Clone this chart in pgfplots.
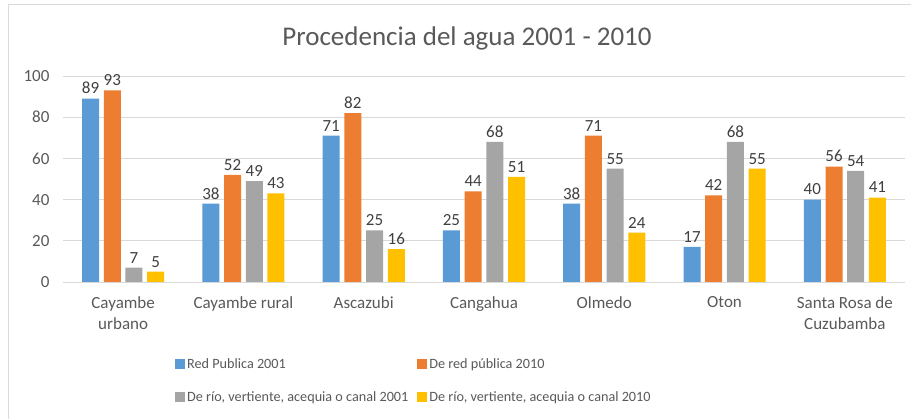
\documentclass[border=0pt]{standalone}
\usepackage{fontspec}
\setmainfont{Carlito}
\usepackage{pgfplots}
\pgfplotsset{compat=1.18}
\definecolor{cblue}{HTML}{5B9BD5}
\definecolor{corange}{HTML}{ED7D31}
\definecolor{cgray}{HTML}{A5A5A5}
\definecolor{cyellow}{HTML}{FFC000}
\definecolor{txt}{HTML}{595959}
\definecolor{lbl}{HTML}{404040}
\definecolor{grid}{HTML}{D9D9D9}
\begin{document}
\begin{tikzpicture}[x=1pt,y=1pt]
\path[use as bounding box] (0,0) rectangle (911,419);
\draw[color=grid, line width=1pt] (8,-1) -- (8,414) -- (912,414);
\node[text=txt, font=\fontsize{27}{32}\selectfont] at (467,381) {Procedencia del agua 2001 - 2010};
\begin{axis}[
  at={(63pt,137pt)}, anchor=south west,
  scale only axis, width=842pt, height=206pt,
  ymin=0, ymax=100, xmin=-0.5, xmax=6.5,
  ytick={0,20,...,100},
  xtick={0,...,6},
  xticklabels={{Cayambe\\urbano},{Cayambe rural},{Ascazubi},{Cangahua},{Olmedo},{Oton},{Santa Rosa de\\Cuzubamba}},
  xticklabel style={align=center, text=txt, font=\fontsize{17}{21}\selectfont, yshift=-7pt},
  yticklabel style={text=txt, font=\fontsize{17}{20}\selectfont, xshift=-10pt},
  /pgf/number format/assume math mode=true,
  axis line style={draw=none},
  tick style={draw=none},
  ymajorgrids, major grid style={color=grid, line width=0.8pt},
  ybar=4.7pt, bar width=17pt,
  nodes near coords,
  nodes near coords style={text=lbl, font=\fontsize{17}{20}\selectfont, yshift=1pt},
  legend columns=2,
  legend cell align=left,
  legend style={at={(0.1330,-0.36)}, anchor=north west, draw=none, fill=none, inner sep=0pt,
    font=\fontsize{14.2}{17}\selectfont, text=txt,
    /tikz/every even column/.append style={column sep=7pt},
    /tikz/every odd column/.append style={column sep=0pt},
    row sep=18pt},
  legend image code/.code={\fill[#1] (0pt,-5pt) rectangle (10pt,5pt);},
]
\addplot[fill=cblue, draw=none] coordinates {(0,89) (1,38) (2,71) (3,25) (4,38) (5,17) (6,40)};
\addplot[fill=corange, draw=none] coordinates {(0,93) (1,52) (2,82) (3,44) (4,71) (5,42) (6,56)};
\addplot[fill=cgray, draw=none] coordinates {(0,7) (1,49) (2,25) (3,68) (4,55) (5,68) (6,54)};
\addplot[fill=cyellow, draw=none] coordinates {(0,5) (1,43) (2,16) (3,51) (4,24) (5,55) (6,41)};
\legend{Red Publica 2001, De red pública 2010, {De río, vertiente, acequia o canal 2001}, {De río, vertiente, acequia o canal 2010}}
\end{axis}
\end{tikzpicture}
\end{document}
